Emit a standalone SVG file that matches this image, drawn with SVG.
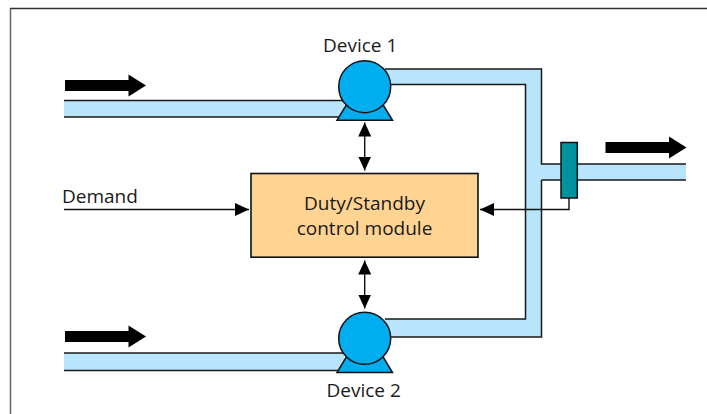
<svg xmlns="http://www.w3.org/2000/svg" width="707" height="414" viewBox="0 0 707 414">
<style>
text{font-family:"Open Sans","Noto Sans","Liberation Sans",sans-serif;font-size:19px;fill:#1a1a1a}
.pipe{fill:#b8e5fb;stroke:none}
.edge{fill:none;stroke:#1a1a1a;stroke-width:1.5}
.pump{fill:#00aeef;stroke:#111;stroke-width:1.5}
.flow{fill:#000}
.sig{fill:none;stroke:#111;stroke-width:1.4}
</style>
<defs>
<marker id="ah" viewBox="0 0 14 13" refX="14" refY="6.5" markerWidth="14" markerHeight="13" markerUnits="userSpaceOnUse" orient="auto-start-reverse"><path d="M0 0L14 6.5L0 13Z" fill="#000"/></marker>
<polygon id="flowarrow" class="flow" points="0,-5.5 63.5,-5.5 63.5,-11 81,0 63.5,11 63.5,5.5 0,5.5"/>
</defs>
<rect width="707" height="414" fill="#fff"/>
<path d="M10.5 414V8.5" fill="none" stroke="#666" stroke-width="1.5"/>
<path d="M10 8.5H707" fill="none" stroke="#333" stroke-width="1.5"/>
<g id="pipes">
<rect class="pipe" x="64" y="100.5" width="280" height="16.5"/>
<rect class="pipe" x="64" y="353" width="280" height="17.5"/>
<path class="pipe" d="M380 69H541.5V164H686V180H541.5V337H380V319H525.5V84.5H380Z"/>
<path class="edge" d="M64 100.5H344M64 117H340M64 353H344M64 370.5H340"/>
<path class="edge" d="M385 69H541.5V164H686M541.5 180H686M541.5 180V337H386M385 319H525.5V84.5H386"/>
</g>
<g id="connectors">
<path class="sig" d="M569 198V209.5H480" marker-end="url(#ah)"/>
<path class="sig" d="M64 209.5H249" marker-end="url(#ah)"/>
<path class="sig" d="M364.7 122.5V170.5" marker-start="url(#ah)" marker-end="url(#ah)"/>
<path class="sig" d="M364.7 260.5V308.5" marker-start="url(#ah)" marker-end="url(#ah)"/>
</g>
<g id="arrow-in-1"><use href="#flowarrow" x="65" y="85.5"/></g>
<g id="arrow-in-2"><use href="#flowarrow" x="65" y="336.5"/></g>
<g id="arrow-out"><use href="#flowarrow" x="605.5" y="147.5"/></g>
<g id="device-1">
<path class="pump" d="M337 120.3H392.5L382.6 104H346.9Z"/>
<circle class="pump" cx="364.7" cy="86.7" r="26"/>
<text x="323" y="52">Device 1</text>
</g>
<g id="device-2">
<path class="pump" d="M337 372.5H392.5L382.6 356H346.9Z"/>
<circle class="pump" cx="364.7" cy="338.3" r="26"/>
<text x="326.5" y="396.5">Device 2</text>
</g>
<g id="control-module">
<rect x="251" y="173.5" width="227" height="83.7" fill="#ffd391" stroke="#111" stroke-width="1.6"/>
<text x="364.5" y="209.5" text-anchor="middle">Duty/Standby</text>
<text x="364.5" y="235" text-anchor="middle">control module</text>
</g>
<g id="demand"><text x="62" y="203">Demand</text></g>
<g id="valve"><rect x="561" y="142.5" width="16.3" height="55.5" fill="#00929f" stroke="#111" stroke-width="1.5"/></g>
</svg>
